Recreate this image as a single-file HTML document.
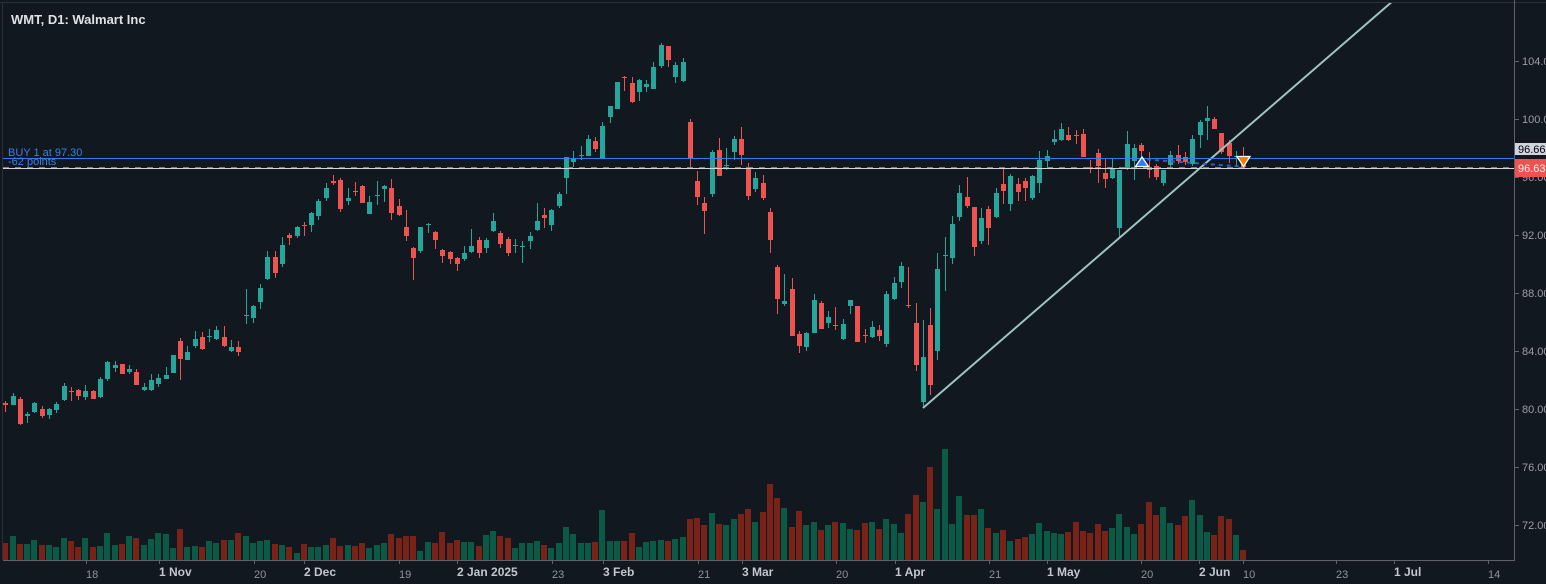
<!DOCTYPE html>
<html><head><meta charset="utf-8"><style>
html,body{margin:0;padding:0;background:#111820;}
svg{display:block;}
text{font-family:"Liberation Sans",sans-serif;}
</style></head><body>
<svg width="1546" height="584" viewBox="0 0 1546 584" xmlns="http://www.w3.org/2000/svg">
<rect x="0" y="0" width="1546" height="584" fill="#111820"/>
<rect x="0" y="2" width="1546" height="1" fill="#2a303b"/>
<rect x="2" y="2" width="1" height="558" fill="#2a303b"/>
<defs><clipPath id="cp"><rect x="3" y="3" width="1511" height="557"/></clipPath></defs>
<g clip-path="url(#cp)">
<g fill="#0b5a45" shape-rendering="crispEdges">
<rect x="10" y="536" width="6" height="24"/><rect x="24" y="544" width="6" height="16"/><rect x="31" y="540" width="6" height="20"/><rect x="46" y="545" width="6" height="15"/><rect x="53" y="547" width="6" height="13"/><rect x="61" y="538" width="6" height="22"/><rect x="82" y="538" width="6" height="22"/><rect x="97" y="546" width="6" height="14"/><rect x="104" y="533" width="6" height="27"/><rect x="112" y="545" width="6" height="15"/><rect x="126" y="536" width="6" height="24"/><rect x="141" y="545" width="6" height="15"/><rect x="148" y="539" width="6" height="21"/><rect x="155" y="533" width="6" height="27"/><rect x="163" y="534" width="6" height="26"/><rect x="170" y="548" width="6" height="12"/><rect x="184" y="547" width="6" height="13"/><rect x="192" y="546" width="6" height="14"/><rect x="206" y="541" width="6" height="19"/><rect x="213" y="543" width="6" height="17"/><rect x="228" y="540" width="6" height="20"/><rect x="243" y="536" width="6" height="24"/><rect x="250" y="543" width="6" height="17"/><rect x="257" y="541" width="6" height="19"/><rect x="264" y="540" width="6" height="20"/><rect x="279" y="545" width="6" height="15"/><rect x="294" y="553" width="6" height="7"/><rect x="308" y="547" width="6" height="13"/><rect x="315" y="547" width="6" height="13"/><rect x="323" y="545" width="6" height="15"/><rect x="345" y="545" width="6" height="15"/><rect x="366" y="548" width="6" height="12"/><rect x="374" y="545" width="6" height="15"/><rect x="381" y="543" width="6" height="17"/><rect x="417" y="551" width="6" height="9"/><rect x="425" y="542" width="6" height="18"/><rect x="461" y="542" width="6" height="18"/><rect x="468" y="542" width="6" height="18"/><rect x="483" y="535" width="6" height="25"/><rect x="490" y="531" width="6" height="29"/><rect x="512" y="548" width="6" height="12"/><rect x="519" y="543" width="6" height="17"/><rect x="527" y="543" width="6" height="17"/><rect x="534" y="541" width="6" height="19"/><rect x="548" y="548" width="6" height="12"/><rect x="556" y="543" width="6" height="17"/><rect x="563" y="527" width="6" height="33"/><rect x="570" y="534" width="6" height="26"/><rect x="578" y="543" width="6" height="17"/><rect x="585" y="543" width="6" height="17"/><rect x="599" y="510" width="6" height="50"/><rect x="607" y="541" width="6" height="19"/><rect x="614" y="541" width="6" height="19"/><rect x="636" y="547" width="6" height="13"/><rect x="643" y="542" width="6" height="18"/><rect x="650" y="541" width="6" height="19"/><rect x="658" y="540" width="6" height="20"/><rect x="672" y="539" width="6" height="21"/><rect x="680" y="537" width="6" height="23"/><rect x="709" y="513" width="6" height="47"/><rect x="723" y="525" width="6" height="35"/><rect x="731" y="519" width="6" height="41"/><rect x="752" y="522" width="6" height="38"/><rect x="781" y="508" width="6" height="52"/><rect x="803" y="525" width="6" height="35"/><rect x="811" y="522" width="6" height="38"/><rect x="825" y="525" width="6" height="35"/><rect x="840" y="523" width="6" height="37"/><rect x="847" y="529" width="6" height="31"/><rect x="869" y="522" width="6" height="38"/><rect x="883" y="519" width="6" height="41"/><rect x="891" y="524" width="6" height="36"/><rect x="898" y="533" width="6" height="27"/><rect x="920" y="502" width="6" height="58"/><rect x="934" y="509" width="6" height="51"/><rect x="942" y="449" width="6" height="111"/><rect x="949" y="524" width="6" height="36"/><rect x="956" y="496" width="6" height="64"/><rect x="978" y="509" width="6" height="51"/><rect x="993" y="533" width="6" height="27"/><rect x="1007" y="541" width="6" height="19"/><rect x="1029" y="534" width="6" height="26"/><rect x="1036" y="523" width="6" height="37"/><rect x="1044" y="531" width="6" height="29"/><rect x="1051" y="533" width="6" height="27"/><rect x="1058" y="534" width="6" height="26"/><rect x="1109" y="528" width="6" height="32"/><rect x="1116" y="514" width="6" height="46"/><rect x="1124" y="527" width="6" height="33"/><rect x="1131" y="534" width="6" height="26"/><rect x="1160" y="507" width="6" height="53"/><rect x="1167" y="523" width="6" height="37"/><rect x="1189" y="500" width="6" height="60"/><rect x="1197" y="515" width="6" height="45"/><rect x="1204" y="532" width="6" height="28"/><rect x="1233" y="535" width="6" height="25"/>
</g>
<g fill="#782218" shape-rendering="crispEdges">
<rect x="3" y="543" width="5" height="17"/><rect x="17" y="544" width="6" height="16"/><rect x="39" y="545" width="6" height="15"/><rect x="68" y="541" width="6" height="19"/><rect x="75" y="547" width="6" height="13"/><rect x="90" y="547" width="6" height="13"/><rect x="119" y="544" width="6" height="16"/><rect x="133" y="538" width="6" height="22"/><rect x="177" y="529" width="6" height="31"/><rect x="199" y="547" width="6" height="13"/><rect x="221" y="540" width="6" height="20"/><rect x="235" y="533" width="6" height="27"/><rect x="272" y="544" width="6" height="16"/><rect x="286" y="547" width="6" height="13"/><rect x="301" y="544" width="6" height="16"/><rect x="330" y="538" width="6" height="22"/><rect x="337" y="546" width="6" height="14"/><rect x="352" y="546" width="6" height="14"/><rect x="359" y="543" width="6" height="17"/><rect x="388" y="534" width="6" height="26"/><rect x="396" y="538" width="6" height="22"/><rect x="403" y="536" width="6" height="24"/><rect x="410" y="536" width="6" height="24"/><rect x="432" y="543" width="6" height="17"/><rect x="439" y="532" width="6" height="28"/><rect x="447" y="543" width="6" height="17"/><rect x="454" y="540" width="6" height="20"/><rect x="476" y="546" width="6" height="14"/><rect x="497" y="536" width="6" height="24"/><rect x="505" y="538" width="6" height="22"/><rect x="541" y="545" width="6" height="15"/><rect x="592" y="542" width="6" height="18"/><rect x="621" y="541" width="6" height="19"/><rect x="629" y="533" width="6" height="27"/><rect x="665" y="541" width="6" height="19"/><rect x="687" y="519" width="6" height="41"/><rect x="694" y="518" width="6" height="42"/><rect x="701" y="525" width="6" height="35"/><rect x="716" y="524" width="6" height="36"/><rect x="738" y="514" width="6" height="46"/><rect x="745" y="509" width="6" height="51"/><rect x="760" y="512" width="6" height="48"/><rect x="767" y="484" width="6" height="76"/><rect x="774" y="498" width="6" height="62"/><rect x="789" y="527" width="6" height="33"/><rect x="796" y="511" width="6" height="49"/><rect x="818" y="530" width="6" height="30"/><rect x="832" y="522" width="6" height="38"/><rect x="854" y="530" width="6" height="30"/><rect x="862" y="523" width="6" height="37"/><rect x="876" y="529" width="6" height="31"/><rect x="905" y="514" width="6" height="46"/><rect x="913" y="495" width="6" height="65"/><rect x="927" y="467" width="6" height="93"/><rect x="964" y="515" width="6" height="45"/><rect x="971" y="515" width="6" height="45"/><rect x="985" y="528" width="6" height="32"/><rect x="1000" y="530" width="6" height="30"/><rect x="1015" y="539" width="6" height="21"/><rect x="1022" y="537" width="6" height="23"/><rect x="1065" y="532" width="6" height="28"/><rect x="1073" y="522" width="6" height="38"/><rect x="1080" y="531" width="6" height="29"/><rect x="1087" y="533" width="6" height="27"/><rect x="1095" y="524" width="6" height="36"/><rect x="1102" y="531" width="6" height="29"/><rect x="1138" y="524" width="6" height="36"/><rect x="1146" y="502" width="6" height="58"/><rect x="1153" y="515" width="6" height="45"/><rect x="1175" y="525" width="6" height="35"/><rect x="1182" y="516" width="6" height="44"/><rect x="1211" y="535" width="6" height="25"/><rect x="1218" y="516" width="6" height="44"/><rect x="1226" y="519" width="6" height="41"/><rect x="1240" y="550" width="6" height="10"/>
</g>
<g fill="#26a69a" shape-rendering="crispEdges">
<rect x="11" y="396" width="5" height="9"/><rect x="13" y="393" width="1" height="12"/>
<rect x="25" y="414" width="5" height="2"/><rect x="27" y="412" width="1" height="11"/>
<rect x="32" y="403" width="5" height="9"/><rect x="34" y="402" width="1" height="11"/>
<rect x="47" y="409" width="5" height="6"/><rect x="49" y="408" width="1" height="11"/>
<rect x="54" y="404" width="5" height="6"/><rect x="56" y="402" width="1" height="11"/>
<rect x="62" y="386" width="5" height="14"/><rect x="64" y="383" width="1" height="18"/>
<rect x="83" y="391" width="5" height="6"/><rect x="85" y="385" width="1" height="15"/>
<rect x="98" y="379" width="5" height="18"/><rect x="100" y="377" width="1" height="21"/>
<rect x="105" y="362" width="5" height="17"/><rect x="107" y="361" width="1" height="20"/>
<rect x="113" y="365" width="5" height="3"/><rect x="115" y="361" width="1" height="11"/>
<rect x="127" y="369" width="5" height="3"/><rect x="129" y="365" width="1" height="9"/>
<rect x="142" y="387" width="5" height="3"/><rect x="144" y="383" width="1" height="8"/>
<rect x="149" y="380" width="5" height="10"/><rect x="151" y="374" width="1" height="17"/>
<rect x="156" y="378" width="5" height="6"/><rect x="158" y="374" width="1" height="13"/>
<rect x="164" y="375" width="5" height="4"/><rect x="166" y="367" width="1" height="12"/>
<rect x="171" y="355" width="5" height="18"/><rect x="173" y="355" width="1" height="18"/>
<rect x="185" y="352" width="5" height="8"/><rect x="187" y="346" width="1" height="14"/>
<rect x="193" y="339" width="5" height="7"/><rect x="195" y="331" width="1" height="17"/>
<rect x="207" y="336" width="5" height="1"/><rect x="209" y="329" width="1" height="13"/>
<rect x="214" y="330" width="5" height="9"/><rect x="216" y="326" width="1" height="14"/>
<rect x="229" y="347" width="5" height="4"/><rect x="231" y="340" width="1" height="12"/>
<rect x="244" y="315" width="5" height="1"/><rect x="246" y="289" width="1" height="35"/>
<rect x="251" y="306" width="5" height="12"/><rect x="253" y="305" width="1" height="18"/>
<rect x="258" y="288" width="5" height="14"/><rect x="260" y="284" width="1" height="25"/>
<rect x="265" y="257" width="5" height="22"/><rect x="267" y="251" width="1" height="29"/>
<rect x="280" y="245" width="5" height="19"/><rect x="282" y="237" width="1" height="30"/>
<rect x="295" y="227" width="5" height="9"/><rect x="297" y="226" width="1" height="12"/>
<rect x="309" y="213" width="5" height="12"/><rect x="311" y="212" width="1" height="20"/>
<rect x="316" y="201" width="5" height="15"/><rect x="318" y="199" width="1" height="21"/>
<rect x="324" y="188" width="5" height="10"/><rect x="326" y="183" width="1" height="18"/>
<rect x="346" y="198" width="5" height="3"/><rect x="348" y="188" width="1" height="17"/>
<rect x="367" y="202" width="5" height="12"/><rect x="369" y="196" width="1" height="18"/>
<rect x="375" y="195" width="5" height="1"/><rect x="377" y="181" width="1" height="24"/>
<rect x="382" y="186" width="5" height="3"/><rect x="384" y="185" width="1" height="17"/>
<rect x="418" y="227" width="5" height="24"/><rect x="420" y="227" width="1" height="26"/>
<rect x="426" y="224" width="5" height="1"/><rect x="428" y="223" width="1" height="10"/>
<rect x="462" y="253" width="5" height="6"/><rect x="464" y="246" width="1" height="15"/>
<rect x="469" y="246" width="5" height="6"/><rect x="471" y="229" width="1" height="24"/>
<rect x="484" y="240" width="5" height="8"/><rect x="486" y="238" width="1" height="15"/>
<rect x="491" y="221" width="5" height="10"/><rect x="493" y="213" width="1" height="19"/>
<rect x="513" y="245" width="5" height="1"/><rect x="515" y="239" width="1" height="14"/>
<rect x="520" y="246" width="5" height="1"/><rect x="522" y="241" width="1" height="22"/>
<rect x="528" y="236" width="5" height="5"/><rect x="530" y="232" width="1" height="17"/>
<rect x="535" y="221" width="5" height="9"/><rect x="537" y="203" width="1" height="28"/>
<rect x="549" y="210" width="5" height="15"/><rect x="551" y="209" width="1" height="22"/>
<rect x="557" y="194" width="5" height="12"/><rect x="559" y="192" width="1" height="16"/>
<rect x="564" y="157" width="5" height="21"/><rect x="566" y="157" width="1" height="37"/>
<rect x="571" y="159" width="5" height="3"/><rect x="573" y="151" width="1" height="16"/>
<rect x="579" y="155" width="5" height="1"/><rect x="581" y="146" width="1" height="14"/>
<rect x="586" y="139" width="5" height="17"/><rect x="588" y="135" width="1" height="21"/>
<rect x="600" y="126" width="5" height="32"/><rect x="602" y="122" width="1" height="36"/>
<rect x="608" y="106" width="5" height="11"/><rect x="610" y="106" width="1" height="17"/>
<rect x="615" y="82" width="5" height="27"/><rect x="617" y="82" width="1" height="27"/>
<rect x="637" y="80" width="5" height="12"/><rect x="639" y="79" width="1" height="22"/>
<rect x="644" y="84" width="5" height="3"/><rect x="646" y="80" width="1" height="12"/>
<rect x="651" y="67" width="5" height="22"/><rect x="653" y="62" width="1" height="27"/>
<rect x="659" y="45" width="5" height="21"/><rect x="661" y="43" width="1" height="25"/>
<rect x="673" y="65" width="5" height="12"/><rect x="675" y="62" width="1" height="21"/>
<rect x="681" y="62" width="5" height="19"/><rect x="683" y="58" width="1" height="24"/>
<rect x="710" y="152" width="5" height="42"/><rect x="712" y="150" width="1" height="47"/>
<rect x="724" y="165" width="5" height="1"/><rect x="726" y="148" width="1" height="22"/>
<rect x="732" y="139" width="5" height="13"/><rect x="734" y="136" width="1" height="24"/>
<rect x="753" y="178" width="5" height="11"/><rect x="755" y="172" width="1" height="20"/>
<rect x="782" y="301" width="5" height="3"/><rect x="784" y="274" width="1" height="32"/>
<rect x="804" y="333" width="5" height="14"/><rect x="806" y="332" width="1" height="19"/>
<rect x="812" y="300" width="5" height="33"/><rect x="814" y="294" width="1" height="39"/>
<rect x="826" y="317" width="5" height="6"/><rect x="828" y="311" width="1" height="17"/>
<rect x="841" y="324" width="5" height="15"/><rect x="843" y="319" width="1" height="21"/>
<rect x="848" y="300" width="5" height="6"/><rect x="850" y="300" width="1" height="14"/>
<rect x="870" y="327" width="5" height="10"/><rect x="872" y="321" width="1" height="17"/>
<rect x="884" y="294" width="5" height="50"/><rect x="886" y="291" width="1" height="56"/>
<rect x="892" y="283" width="5" height="16"/><rect x="894" y="277" width="1" height="23"/>
<rect x="899" y="266" width="5" height="16"/><rect x="901" y="262" width="1" height="26"/>
<rect x="921" y="357" width="5" height="45"/><rect x="923" y="320" width="1" height="88"/>
<rect x="935" y="269" width="5" height="82"/><rect x="937" y="253" width="1" height="107"/>
<rect x="943" y="255" width="5" height="1"/><rect x="945" y="237" width="1" height="54"/>
<rect x="950" y="224" width="5" height="34"/><rect x="952" y="216" width="1" height="48"/>
<rect x="957" y="193" width="5" height="24"/><rect x="959" y="185" width="1" height="36"/>
<rect x="979" y="218" width="5" height="23"/><rect x="981" y="208" width="1" height="36"/>
<rect x="994" y="193" width="5" height="24"/><rect x="996" y="188" width="1" height="30"/>
<rect x="1008" y="176" width="5" height="28"/><rect x="1010" y="174" width="1" height="37"/>
<rect x="1030" y="176" width="5" height="22"/><rect x="1032" y="175" width="1" height="25"/>
<rect x="1037" y="160" width="5" height="23"/><rect x="1039" y="151" width="1" height="42"/>
<rect x="1045" y="156" width="5" height="5"/><rect x="1047" y="150" width="1" height="17"/>
<rect x="1052" y="139" width="5" height="3"/><rect x="1054" y="130" width="1" height="15"/>
<rect x="1059" y="129" width="5" height="11"/><rect x="1061" y="123" width="1" height="18"/>
<rect x="1110" y="169" width="5" height="9"/><rect x="1112" y="159" width="1" height="20"/>
<rect x="1117" y="170" width="5" height="58"/><rect x="1119" y="170" width="1" height="67"/>
<rect x="1125" y="144" width="5" height="25"/><rect x="1127" y="131" width="1" height="39"/>
<rect x="1132" y="148" width="5" height="13"/><rect x="1134" y="144" width="1" height="36"/>
<rect x="1161" y="170" width="5" height="13"/><rect x="1163" y="170" width="1" height="16"/>
<rect x="1168" y="155" width="5" height="10"/><rect x="1170" y="151" width="1" height="17"/>
<rect x="1190" y="139" width="5" height="25"/><rect x="1192" y="135" width="1" height="31"/>
<rect x="1198" y="122" width="5" height="13"/><rect x="1200" y="120" width="1" height="28"/>
<rect x="1205" y="118" width="5" height="3"/><rect x="1207" y="106" width="1" height="34"/>
<rect x="1234" y="156" width="5" height="1"/><rect x="1236" y="151" width="1" height="16"/>
</g>
<g fill="#ef5350" shape-rendering="crispEdges">
<rect x="3" y="403" width="5" height="2"/><rect x="5" y="401" width="1" height="11"/>
<rect x="18" y="399" width="5" height="25"/><rect x="20" y="397" width="1" height="28"/>
<rect x="40" y="409" width="5" height="7"/><rect x="42" y="406" width="1" height="12"/>
<rect x="69" y="391" width="5" height="1"/><rect x="71" y="387" width="1" height="14"/>
<rect x="76" y="390" width="5" height="6"/><rect x="78" y="389" width="1" height="11"/>
<rect x="91" y="391" width="5" height="8"/><rect x="93" y="390" width="1" height="9"/>
<rect x="120" y="364" width="5" height="10"/><rect x="122" y="364" width="1" height="10"/>
<rect x="134" y="372" width="5" height="13"/><rect x="136" y="369" width="1" height="16"/>
<rect x="178" y="341" width="5" height="18"/><rect x="180" y="338" width="1" height="42"/>
<rect x="200" y="337" width="5" height="12"/><rect x="202" y="332" width="1" height="18"/>
<rect x="222" y="337" width="5" height="9"/><rect x="224" y="326" width="1" height="21"/>
<rect x="236" y="347" width="5" height="5"/><rect x="238" y="341" width="1" height="15"/>
<rect x="273" y="257" width="5" height="16"/><rect x="275" y="251" width="1" height="27"/>
<rect x="287" y="235" width="5" height="3"/><rect x="289" y="233" width="1" height="12"/>
<rect x="302" y="225" width="5" height="1"/><rect x="304" y="222" width="1" height="14"/>
<rect x="331" y="181" width="5" height="2"/><rect x="333" y="175" width="1" height="10"/>
<rect x="338" y="180" width="5" height="29"/><rect x="340" y="178" width="1" height="34"/>
<rect x="353" y="191" width="5" height="1"/><rect x="355" y="182" width="1" height="14"/>
<rect x="360" y="186" width="5" height="17"/><rect x="362" y="185" width="1" height="18"/>
<rect x="389" y="188" width="5" height="25"/><rect x="391" y="179" width="1" height="41"/>
<rect x="397" y="206" width="5" height="9"/><rect x="399" y="199" width="1" height="17"/>
<rect x="404" y="227" width="5" height="9"/><rect x="406" y="210" width="1" height="31"/>
<rect x="411" y="248" width="5" height="10"/><rect x="413" y="247" width="1" height="33"/>
<rect x="433" y="232" width="5" height="8"/><rect x="435" y="231" width="1" height="18"/>
<rect x="440" y="250" width="5" height="6"/><rect x="442" y="249" width="1" height="14"/>
<rect x="448" y="252" width="5" height="7"/><rect x="450" y="251" width="1" height="13"/>
<rect x="455" y="258" width="5" height="6"/><rect x="457" y="257" width="1" height="14"/>
<rect x="477" y="240" width="5" height="13"/><rect x="479" y="237" width="1" height="21"/>
<rect x="498" y="233" width="5" height="11"/><rect x="500" y="231" width="1" height="17"/>
<rect x="506" y="239" width="5" height="14"/><rect x="508" y="237" width="1" height="19"/>
<rect x="542" y="215" width="5" height="3"/><rect x="544" y="208" width="1" height="20"/>
<rect x="593" y="141" width="5" height="8"/><rect x="595" y="137" width="1" height="15"/>
<rect x="622" y="77" width="5" height="1"/><rect x="624" y="76" width="1" height="15"/>
<rect x="630" y="83" width="5" height="19"/><rect x="632" y="77" width="1" height="26"/>
<rect x="666" y="46" width="5" height="14"/><rect x="668" y="46" width="1" height="21"/>
<rect x="688" y="122" width="5" height="37"/><rect x="690" y="119" width="1" height="48"/>
<rect x="695" y="181" width="5" height="16"/><rect x="697" y="171" width="1" height="34"/>
<rect x="702" y="203" width="5" height="8"/><rect x="704" y="197" width="1" height="37"/>
<rect x="717" y="150" width="5" height="26"/><rect x="719" y="138" width="1" height="38"/>
<rect x="739" y="139" width="5" height="16"/><rect x="741" y="127" width="1" height="38"/>
<rect x="746" y="167" width="5" height="29"/><rect x="748" y="163" width="1" height="37"/>
<rect x="761" y="183" width="5" height="15"/><rect x="763" y="175" width="1" height="25"/>
<rect x="768" y="212" width="5" height="28"/><rect x="770" y="208" width="1" height="45"/>
<rect x="775" y="267" width="5" height="32"/><rect x="777" y="265" width="1" height="49"/>
<rect x="790" y="289" width="5" height="47"/><rect x="792" y="278" width="1" height="58"/>
<rect x="797" y="334" width="5" height="12"/><rect x="799" y="331" width="1" height="22"/>
<rect x="819" y="303" width="5" height="26"/><rect x="821" y="301" width="1" height="28"/>
<rect x="833" y="325" width="5" height="1"/><rect x="835" y="307" width="1" height="23"/>
<rect x="855" y="306" width="5" height="36"/><rect x="857" y="306" width="1" height="36"/>
<rect x="863" y="335" width="5" height="1"/><rect x="865" y="329" width="1" height="14"/>
<rect x="877" y="330" width="5" height="6"/><rect x="879" y="325" width="1" height="16"/>
<rect x="906" y="305" width="5" height="1"/><rect x="908" y="267" width="1" height="41"/>
<rect x="914" y="323" width="5" height="42"/><rect x="916" y="303" width="1" height="68"/>
<rect x="928" y="325" width="5" height="60"/><rect x="930" y="308" width="1" height="87"/>
<rect x="965" y="197" width="5" height="9"/><rect x="967" y="177" width="1" height="31"/>
<rect x="972" y="207" width="5" height="40"/><rect x="974" y="207" width="1" height="49"/>
<rect x="986" y="209" width="5" height="19"/><rect x="988" y="206" width="1" height="39"/>
<rect x="1001" y="184" width="5" height="7"/><rect x="1003" y="169" width="1" height="35"/>
<rect x="1016" y="184" width="5" height="8"/><rect x="1018" y="178" width="1" height="23"/>
<rect x="1023" y="181" width="5" height="7"/><rect x="1025" y="178" width="1" height="23"/>
<rect x="1066" y="135" width="5" height="5"/><rect x="1068" y="127" width="1" height="14"/>
<rect x="1074" y="135" width="5" height="1"/><rect x="1076" y="130" width="1" height="14"/>
<rect x="1081" y="134" width="5" height="23"/><rect x="1083" y="129" width="1" height="28"/>
<rect x="1088" y="167" width="5" height="1"/><rect x="1090" y="160" width="1" height="13"/>
<rect x="1096" y="153" width="5" height="13"/><rect x="1098" y="149" width="1" height="34"/>
<rect x="1103" y="173" width="5" height="6"/><rect x="1105" y="159" width="1" height="29"/>
<rect x="1139" y="145" width="5" height="6"/><rect x="1141" y="143" width="1" height="23"/>
<rect x="1147" y="167" width="5" height="3"/><rect x="1149" y="152" width="1" height="26"/>
<rect x="1154" y="166" width="5" height="11"/><rect x="1156" y="164" width="1" height="16"/>
<rect x="1176" y="155" width="5" height="6"/><rect x="1178" y="145" width="1" height="19"/>
<rect x="1183" y="157" width="5" height="5"/><rect x="1185" y="152" width="1" height="13"/>
<rect x="1212" y="119" width="5" height="10"/><rect x="1214" y="117" width="1" height="12"/>
<rect x="1219" y="133" width="5" height="19"/><rect x="1221" y="133" width="1" height="21"/>
<rect x="1227" y="143" width="5" height="13"/><rect x="1229" y="140" width="1" height="23"/>
<rect x="1241" y="157" width="5" height="10"/><rect x="1243" y="147" width="1" height="20"/>
</g>
<line x1="923" y1="408" x2="1394" y2="0" stroke="#9fc3c3" stroke-width="2"/>
<rect x="3" y="158" width="1511" height="1" fill="#2f7cf6"/>
<line x1="3" y1="167.5" x2="1514" y2="167.5" stroke="#7d8189" stroke-width="1" stroke-dasharray="6 6"/>
<rect x="3" y="168" width="1511" height="1" fill="#d6d6d6"/>
<line x1="1147" y1="159.5" x2="1240" y2="166.5" stroke="#2a5fc4" stroke-width="2" stroke-dasharray="4 4"/>
<polygon points="1142,157 1148.5,166.5 1135.5,166.5" fill="#2e7cf6" stroke="#ffffff" stroke-width="1.3"/>
<polygon points="1237,156.5 1250,156.5 1243.5,166.5" fill="#f57c00" stroke="#ffffff" stroke-width="1.3"/>
</g>
<rect x="1514" y="0" width="1" height="561" fill="#5c616c"/>
<rect x="3" y="560" width="1512" height="1" fill="#5c616c"/>
<g fill="#5c616c">
<rect x="1515" y="61" width="4" height="1"/><rect x="1515" y="119" width="4" height="1"/><rect x="1515" y="177" width="4" height="1"/><rect x="1515" y="235" width="4" height="1"/><rect x="1515" y="293" width="4" height="1"/><rect x="1515" y="351" width="4" height="1"/><rect x="1515" y="409" width="4" height="1"/><rect x="1515" y="467" width="4" height="1"/><rect x="1515" y="525" width="4" height="1"/>
<rect x="86" y="561" width="1" height="3"/><rect x="159" y="561" width="1" height="3"/><rect x="254" y="561" width="1" height="3"/><rect x="304" y="561" width="1" height="3"/><rect x="399" y="561" width="1" height="3"/><rect x="457" y="561" width="1" height="3"/><rect x="552" y="561" width="1" height="3"/><rect x="603" y="561" width="1" height="3"/><rect x="698" y="561" width="1" height="3"/><rect x="742" y="561" width="1" height="3"/><rect x="836" y="561" width="1" height="3"/><rect x="895" y="561" width="1" height="3"/><rect x="989" y="561" width="1" height="3"/><rect x="1047" y="561" width="1" height="3"/><rect x="1141" y="561" width="1" height="3"/><rect x="1199" y="561" width="1" height="3"/><rect x="1243" y="561" width="1" height="3"/><rect x="1336" y="561" width="1" height="3"/><rect x="1394" y="561" width="1" height="3"/><rect x="1488" y="561" width="1" height="3"/>
</g>
<g font-size="11" fill="#9a9ea7">
<text x="1522" y="65">104.00</text>
<text x="1522" y="123">100.00</text>
<text x="1522" y="181">96.00</text>
<text x="1522" y="239">92.00</text>
<text x="1522" y="297">88.00</text>
<text x="1522" y="355">84.00</text>
<text x="1522" y="413">80.00</text>
<text x="1522" y="471">76.00</text>
<text x="1522" y="529">72.00</text>
</g>
<rect x="1515" y="143" width="31" height="12" fill="#d1d4dc"/>
<text x="1518" y="153" font-size="11" fill="#000000">96.66</text>
<rect x="1515" y="159" width="31" height="18" fill="#ef5350"/>
<text x="1518" y="172" font-size="11" fill="#f2f2f2">96.63</text>
<g font-size="11" fill="#8f939c">
<text x="86" y="578">18</text>
<text x="254" y="578">20</text>
<text x="399" y="578">19</text>
<text x="552" y="578">23</text>
<text x="698" y="578">21</text>
<text x="836" y="578">20</text>
<text x="989" y="578">21</text>
<text x="1141" y="578">20</text>
<text x="1243" y="578">10</text>
<text x="1336" y="578">23</text>
<text x="1488" y="578">14</text>
</g>
<g font-size="12" fill="#c3c6ce" font-weight="bold">
<text x="159" y="576">1 Nov</text>
<text x="304" y="576">2 Dec</text>
<text x="457" y="576">2 Jan 2025</text>
<text x="603" y="576">3 Feb</text>
<text x="742" y="576">3 Mar</text>
<text x="895" y="576">1 Apr</text>
<text x="1047" y="576">1 May</text>
<text x="1199" y="576">2 Jun</text>
<text x="1394" y="576">1 Jul</text>
</g>
<text x="11" y="24" font-size="13" font-weight="bold" fill="#dfe2e8">WMT, D1: Walmart Inc</text>
<text x="8" y="156" font-size="11" fill="#3a80e2">BUY 1 at 97.30</text>
<text x="8" y="165" font-size="11" fill="#3a80e2">-62 points</text>
</svg>
</body></html>
